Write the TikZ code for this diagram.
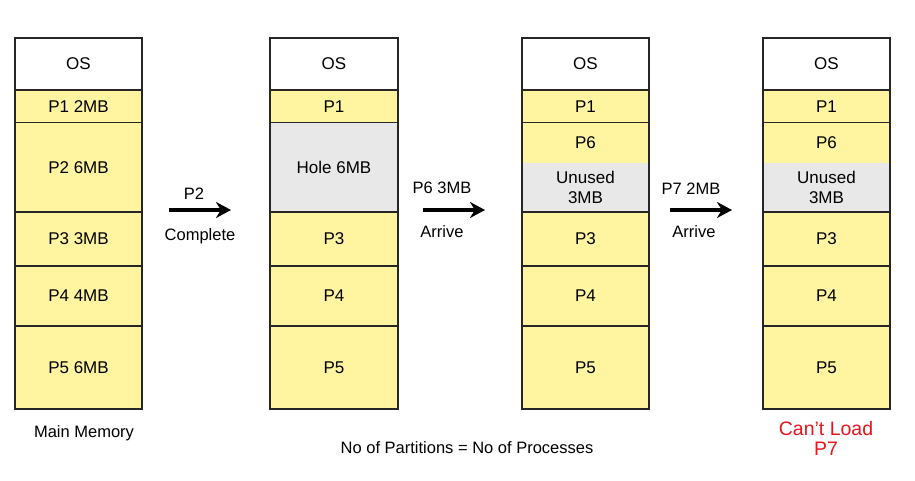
\documentclass[tikz,border=0pt]{standalone}
\usepackage{fontspec}
\setmainfont{Liberation Sans}
\usetikzlibrary{arrows.meta,positioning,fit}
\definecolor{cellyellow}{RGB}{255,244,160}
\definecolor{holegray}{RGB}{232,232,232}
\definecolor{warnred}{RGB}{232,20,30}

\begin{document}
\begin{tikzpicture}[x=1pt, y=-1pt,
  cell/.style={draw=black!85, line width=1.6pt, fill=cellyellow, minimum width=127.5pt,
               inner sep=0pt, outer sep=0pt, align=center,
               font=\fontsize{17}{19.5}\selectfont},
  oscell/.style={cell, fill=white, anchor=north},
  hole/.style={cell, fill=holegray},
  bare/.style={cell, draw=none},
  hos/.style={minimum height=52pt},
  hpone/.style={minimum height=32.7pt},
  hbig/.style={minimum height=89pt},
  hpsix/.style={minimum height=40.6pt},
  hunused/.style={minimum height=48.4pt},
  hpthree/.style={minimum height=54.3pt},
  hpfour/.style={minimum height=59.7pt},
  hpfive/.style={minimum height=83.3pt},
  frame/.style={draw=black!85, line width=1.6pt, inner sep=0pt},
  arr/.style={-{Stealth[length=15pt,width=16pt]}, line width=3.2pt},
  lbl/.style={font=\fontsize{16.5}{19.5}\selectfont, align=center}
]
  \useasboundingbox (0,0) rectangle (915,481);

  % Main memory
  \node[oscell, hos] (os1) at (78.5,38) {OS};
  \node[cell, hpone, below=0pt of os1] (pone1) {P1 2MB};
  \node[cell, hbig, below=0pt of pone1] (ptwo1) {P2 6MB};
  \node[cell, hpthree, below=0pt of ptwo1] (pthree1) {P3 3MB};
  \node[cell, hpfour, below=0pt of pthree1] (pfour1) {P4 4MB};
  \node[cell, hpfive, below=0pt of pfour1] (pfive1) {P5 6MB};

  % After P2 completes
  \node[oscell, hos] (os2) at (334,38) {OS};
  \node[cell, hpone, below=0pt of os2] (pone2) {P1};
  \node[hole, hbig, below=0pt of pone2] (hole2) {Hole 6MB};
  \node[cell, hpthree, below=0pt of hole2] (pthree2) {P3};
  \node[cell, hpfour, below=0pt of pthree2] (pfour2) {P4};
  \node[cell, hpfive, below=0pt of pfour2] (pfive2) {P5};

  % After P6 arrives
  \node[oscell, hos] (os3) at (585.5,38) {OS};
  \node[cell, hpone, below=0pt of os3] (pone3) {P1};
  \node[bare, hpsix, below=0pt of pone3] (psix3) {P6};
  \node[bare, hunused, fill=holegray, below=0pt of psix3] (unused3) {Unused\\3MB};
  \node[frame, fit=(psix3)(unused3)] (slot3) {};
  \node[cell, hpthree, below=0pt of unused3] (pthree3) {P3};
  \node[cell, hpfour, below=0pt of pthree3] (pfour3) {P4};
  \node[cell, hpfive, below=0pt of pfour3] (pfive3) {P5};

  % P7 cannot be loaded
  \node[oscell, hos] (os4) at (826.5,38) {OS};
  \node[cell, hpone, below=0pt of os4] (pone4) {P1};
  \node[bare, hpsix, below=0pt of pone4] (psix4) {P6};
  \node[bare, hunused, fill=holegray, below=0pt of psix4] (unused4) {Unused\\3MB};
  \node[frame, fit=(psix4)(unused4)] (slot4) {};
  \node[cell, hpthree, below=0pt of unused4] (pthree4) {P3};
  \node[cell, hpfour, below=0pt of pthree4] (pfour4) {P4};
  \node[cell, hpfive, below=0pt of pfour4] (pfive4) {P5};

  % Transitions
  \coordinate (goA) at (169,210);
  \coordinate (endA) at (231,210);
  \draw[arr] (goA) -- (endA);
  \node[lbl] (evA) at (194,194) {P2};
  \node[lbl] (whyA) at (200,236) {Complete};

  \coordinate (goB) at (423,210);
  \coordinate (endB) at (485,210);
  \draw[arr] (goB) -- (endB);
  \node[lbl] (evB) at (442,188) {P6 3MB};
  \node[lbl] (whyB) at (442,232) {Arrive};

  \coordinate (goC) at (670,210);
  \coordinate (endC) at (732,210);
  \draw[arr] (goC) -- (endC);
  \node[lbl] (evC) at (691,189) {P7 2MB};
  \node[lbl] (whyC) at (694,232) {Arrive};

  % Captions
  \node[lbl] (mm) at (84,433) {Main Memory};
  \node[lbl] (rule) at (467,448) {No of Partitions = No of Processes};
  \node[lbl, text=warnred, font=\fontsize{19.5}{19.5}\selectfont] (fail) at (826,438.5) {Can’t Load\\P7};
\end{tikzpicture}
\end{document}
